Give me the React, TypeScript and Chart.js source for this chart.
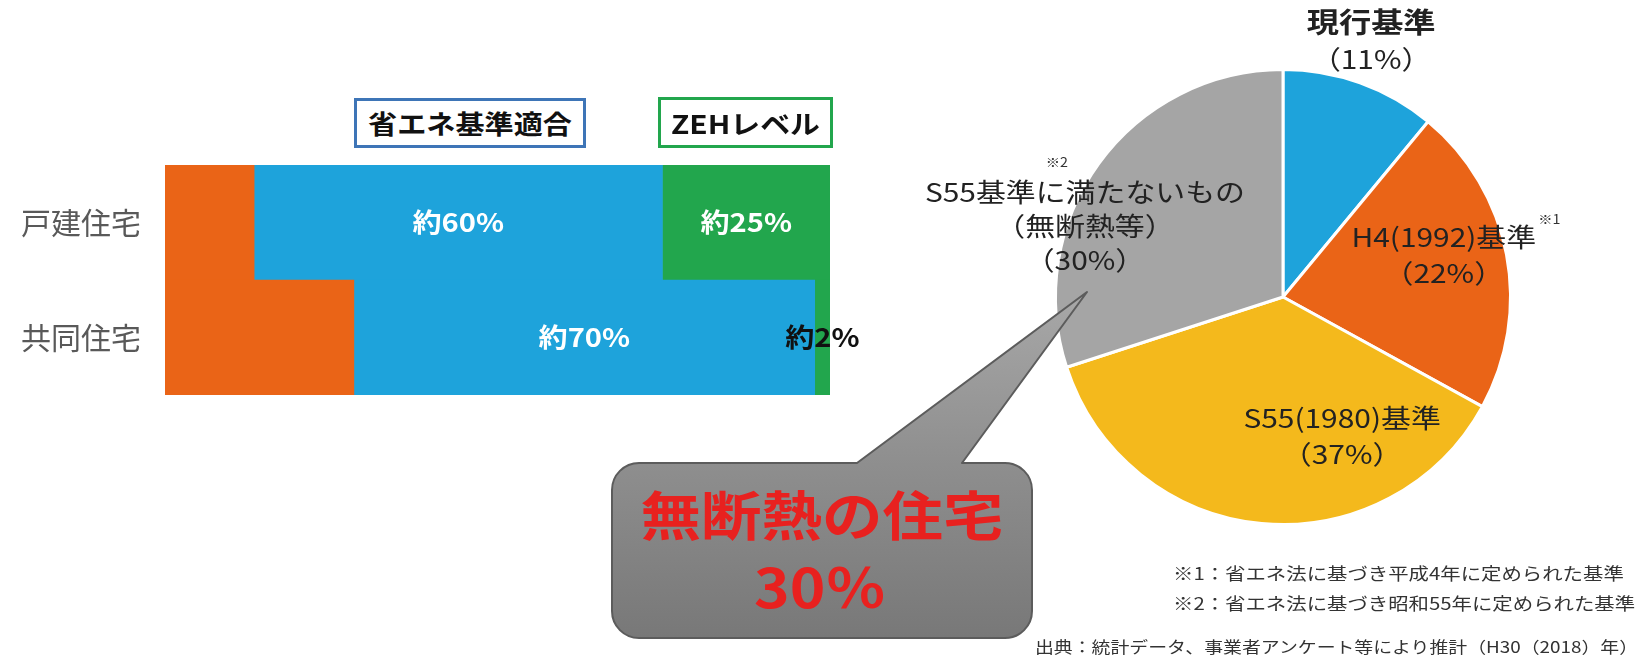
import React, { useEffect, useRef } from "react";
import { Chart, registerables } from "chart.js";

Chart.register(...registerables);

const FONT = '"Noto Sans CJK JP", "Noto Sans", sans-serif';

// ---- bar chart data (share of new housing, %) ----
const barCategories = ["戸建住宅", "共同住宅"];
const belowStandardShare = [13.4, 28.4];
const meetsStandardShare = [61.4, 69.3];
const zehLevelShare = [25.2, 2.3];
const belowStandardText = ["", ""];
const meetsStandardText = ["約60%", "約70%"];
const zehLevelText = ["約25%", "約2%"];
const legendTexts = ["省エネ基準適合", "ZEHレベル"];

// ---- pie chart data (housing stock, %) ----
const pieCategories = ["現行基準", "H4(1992)基準", "S55(1980)基準", "S55基準に満たないもの"];
const pieShares = [11, 22, 37, 30];
const pieSubtitles = ["", "", "", "（無断熱等）"];
const pieNoteMarks = ["", "※1", "", "※2"];

// ---- annotations ----
const calloutLines = ["無断熱の住宅", "30％"];
const footnotes = [
  "※1：省エネ法に基づき平成4年に定められた基準",
  "※2：省エネ法に基づき昭和55年に定められた基準",
];
const sourceNote = "出典：統計データ、事業者アンケート等により推計（H30（2018）年）";

const ORANGE = "#EA6417";
const BLUE = "#1EA3DB";
const GREEN = "#22A64D";
const YELLOW = "#F4B91C";
const GRAY = "#A5A5A5";

const TEXT_SX = 1.15;

function drawText(
  ctx: CanvasRenderingContext2D,
  text: string,
  x: number,
  y: number,
  font: string,
  color: string,
  sx: number,
  align: CanvasTextAlign
) {
  ctx.save();
  ctx.font = font;
  ctx.fillStyle = color;
  ctx.textBaseline = "middle";
  ctx.textAlign = align;
  ctx.translate(x, y);
  ctx.scale(sx, 1);
  ctx.fillText(text, 0, 0);
  ctx.restore();
}

const barTextSets = [belowStandardText, meetsStandardText, zehLevelText];

const barLabelPlugin = {
  id: "barValueLabels",
  afterDatasetsDraw(chart: any) {
    const ctx: CanvasRenderingContext2D = chart.ctx;
    const font = `bold 26px ${FONT}`;
    chart.data.datasets.forEach((_ds: any, di: number) => {
      const meta = chart.getDatasetMeta(di);
      meta.data.forEach((bar: any, i: number) => {
        const text = barTextSets[di][i];
        if (!text) return;
        const p = bar.getProps(["x", "y", "base"], true);
        ctx.save();
        ctx.font = font;
        const w = ctx.measureText(text).width * 1.12;
        ctx.restore();
        const barW = Math.abs(p.x - p.base);
        const color = barW < w ? "#111111" : "#FFFFFF";
        drawText(ctx, text, (p.x + p.base) / 2, p.y, font, color, 1.12, "center");
      });
    });
  },
};

// label placement around each slice: turn (deg) from slice middle, reach (x radius), line gap
const pieLabelLayout = [
  { turn: -0.8, reach: 1.19, gap: 37, bold: true, noteChars: 0, noteRise: 0 },
  { turn: -3.7, reach: 0.73, gap: 36, bold: false, noteChars: 0, noteRise: 18 },
  { turn: -28.4, reach: 0.665, gap: 36, bold: false, noteChars: 0, noteRise: 0 },
  { turn: -16.25, reach: 0.925, gap: 34, bold: false, noteChars: 5, noteRise: 30 },
];

const pieLabelPlugin = {
  id: "pieLabels",
  afterDatasetsDraw(chart: any) {
    const ctx: CanvasRenderingContext2D = chart.ctx;
    const meta = chart.getDatasetMeta(0);
    meta.data.forEach((arc: any, i: number) => {
      const p = arc.getProps(["x", "y", "startAngle", "endAngle", "outerRadius"], true);
      const lay = pieLabelLayout[i];
      const a = (p.startAngle + p.endAngle) / 2 + (lay.turn * Math.PI) / 180;
      const cx = p.x + Math.cos(a) * p.outerRadius * lay.reach;
      const cy = p.y + Math.sin(a) * p.outerRadius * lay.reach;
      const lines = [pieCategories[i]];
      if (pieSubtitles[i]) lines.push(pieSubtitles[i]);
      lines.push(`（${pieShares[i]}%）`);
      const y0 = cy - ((lines.length - 1) * lay.gap) / 2;
      lines.forEach((t, k) => {
        const font = k === 0 && lay.bold ? `bold 28px ${FONT}` : `26px ${FONT}`;
        drawText(ctx, t, cx, y0 + k * lay.gap, font, "#222222", TEXT_SX, "center");
      });
      const mark = pieNoteMarks[i];
      if (mark) {
        const first = lines[0];
        ctx.save();
        ctx.font = `26px ${FONT}`;
        const full = ctx.measureText(first).width * TEXT_SX;
        const part = lay.noteChars
          ? ctx.measureText(first.slice(0, lay.noteChars)).width * TEXT_SX
          : full;
        ctx.restore();
        const x = cx - full / 2 + part + (lay.noteChars ? 10 : 2);
        drawText(ctx, mark, x, y0 - lay.noteRise, `13px ${FONT}`, "#333333", 1.1, "left");
      }
    });
  },
};

export default function App() {
  const barRef = useRef<HTMLCanvasElement | null>(null);
  const pieRef = useRef<HTMLCanvasElement | null>(null);

  useEffect(() => {
    const bar = new Chart(barRef.current as HTMLCanvasElement, {
      type: "bar",
      data: {
        labels: barCategories,
        datasets: [
          { label: "省エネ基準未満", data: belowStandardShare, backgroundColor: ORANGE, barPercentage: 1, categoryPercentage: 1, borderWidth: 0 },
          { label: "省エネ基準適合", data: meetsStandardShare, backgroundColor: BLUE, barPercentage: 1, categoryPercentage: 1, borderWidth: 0 },
          { label: "ZEHレベル", data: zehLevelShare, backgroundColor: GREEN, barPercentage: 1, categoryPercentage: 1, borderWidth: 0 },
        ],
      },
      options: {
        indexAxis: "y",
        responsive: false,
        animation: false,
        layout: { padding: { top: 30, bottom: 30, right: 40, left: 0 } },
        plugins: { legend: { display: false }, tooltip: { enabled: false } },
        scales: {
          x: { stacked: true, min: 0, max: 100, display: false },
          y: {
            stacked: true,
            grid: { display: false, drawTicks: false },
            border: { display: false },
            ticks: { font: { family: FONT, size: 30 }, color: "#595959", padding: 24 },
            afterFit: (s: any) => {
              s.width = 165;
            },
          },
        },
      } as any,
      plugins: [barLabelPlugin],
    });

    const pie = new Chart(pieRef.current as HTMLCanvasElement, {
      type: "pie",
      data: {
        labels: pieCategories,
        datasets: [
          {
            data: pieShares,
            backgroundColor: [BLUE, ORANGE, YELLOW, GRAY],
            borderColor: "#FFFFFF",
            borderWidth: 3,
          },
        ],
      },
      options: {
        responsive: false,
        animation: false,
        layout: { padding: { left: 174, right: 127, top: 68, bottom: 130 } },
        plugins: { legend: { display: false }, tooltip: { enabled: false } },
      } as any,
      plugins: [pieLabelPlugin],
    });

    return () => {
      bar.destroy();
      pie.destroy();
    };
  }, []);

  const L = 612, R = 1032, T = 463, B = 638, r = 27;
  const calloutPath = `M ${L + r} ${T} L 857 ${T} L 1087 292 L 962 ${T} L ${R - r} ${T} A ${r} ${r} 0 0 1 ${R} ${T + r} L ${R} ${B - r} A ${r} ${r} 0 0 1 ${R - r} ${B} L ${L + r} ${B} A ${r} ${r} 0 0 1 ${L} ${B - r} L ${L} ${T + r} A ${r} ${r} 0 0 1 ${L + r} ${T} Z`;

  return (
    <div
      style={{
        position: "absolute",
        left: 0,
        top: 0,
        width: 1639,
        height: 656,
        background: "#FFFFFF",
        overflow: "hidden",
        fontFamily: FONT,
      }}
    >
      <canvas ref={barRef} width={870} height={314} style={{ position: "absolute", left: 0, top: 123 }} />
      <canvas ref={pieRef} width={759} height={656} style={{ position: "absolute", left: 880, top: 0 }} />
      <svg
        width={1639}
        height={656}
        style={{ position: "absolute", left: 0, top: 0, pointerEvents: "none" }}
        fontFamily={FONT}
      >
        <defs>
          <linearGradient id="calloutFill" gradientUnits="userSpaceOnUse" x1="0" y1="292" x2="0" y2="638">
            <stop offset="0" stopColor="#A8A8A8" />
            <stop offset="0.5" stopColor="#8E8E8E" />
            <stop offset="1" stopColor="#787878" />
          </linearGradient>
        </defs>
        {/* legend boxes */}
        <rect x={355.5} y={99.5} width={229} height={47} fill="#FFFFFF" stroke="#3E75B7" strokeWidth={3} />
        <text transform="translate(470,123) scale(1.12,1)" textAnchor="middle" dominantBaseline="central" fontSize={26} fontWeight={700} fill="#111111">
          {legendTexts[0]}
        </text>
        <rect x={659.5} y={98.5} width={172} height={48} fill="#FFFFFF" stroke={GREEN} strokeWidth={3} />
        <text transform="translate(745.5,122.5) scale(1.15,1)" textAnchor="middle" dominantBaseline="central" fontSize={26} fontWeight={700} fill="#111111">
          {legendTexts[1]}
        </text>
        {/* callout */}
        <path d={calloutPath} fill="url(#calloutFill)" stroke="#5C5C5C" strokeWidth={2} strokeLinejoin="round" />
        <text transform="translate(822,512) scale(1.12,1)" textAnchor="middle" dominantBaseline="central" fontSize={54} fontWeight={700} fill="#E8211F">
          {calloutLines[0]}
        </text>
        <text transform="translate(820,584) scale(1.12,1)" textAnchor="middle" dominantBaseline="central" fontSize={54} fontWeight={700} fill="#E8211F">
          {calloutLines[1]}
        </text>
        {/* footnotes */}
        {footnotes.map((t, i) => (
          <text key={i} transform={`translate(1173,${572 + i * 30}) scale(1.2,1)`} dominantBaseline="central" fontSize={17} fill="#333333">
            {t}
          </text>
        ))}
        <text transform="translate(1035,646) scale(1.18,1)" dominantBaseline="central" fontSize={16} fill="#333333">
          {sourceNote}
        </text>
      </svg>
    </div>
  );
}
